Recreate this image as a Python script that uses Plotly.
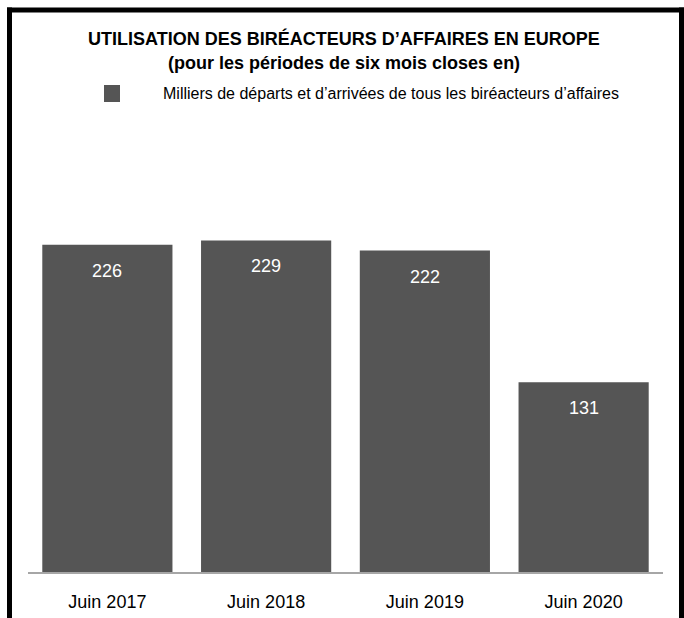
import plotly.graph_objects as go

# Données
categories = ["Juin 2017", "Juin 2018", "Juin 2019", "Juin 2020"]
departs_arrivees = [226, 229, 222, 131]
titre_ligne1 = "UTILISATION DES BIRÉACTEURS D’AFFAIRES EN EUROPE"
titre_ligne2 = "(pour les périodes de six mois closes en)"
legende = "Milliers de départs et d’arrivées de tous les biréacteurs d’affaires"

W, H = 684, 618
ML, MR, MT, MB = 28, 21, 210, 46
PW, PH = W - ML - MR, H - MT - MB

FONT = "Liberation Sans, Arial, sans-serif"
BAR = "#555555"


def px_x(px):
    return (px - ML) / PW


def px_y(py):
    return (H - MB - py) / PH


fig = go.Figure(
    go.Bar(
        x=categories,
        y=departs_arrivees,
        marker=dict(color=BAR, line=dict(width=0)),
        showlegend=False,
        hoverinfo="x+y",
    )
)

annotations = [
    dict(x=c, y=v, xref="x", yref="y", text=str(v), showarrow=False,
         yanchor="middle", yshift=-26, font=dict(family=FONT, size=18, color="white"))
    for c, v in zip(categories, departs_arrivees)
]
annotations += [
    dict(x=px_x(343.5), y=px_y(38.5), xref="paper", yref="paper", text="<b>" + titre_ligne1 + "</b>",
         showarrow=False, xanchor="center", yanchor="middle",
         font=dict(family=FONT, size=18, color="black")),
    dict(x=px_x(343.5), y=px_y(62.5), xref="paper", yref="paper", text="<b>" + titre_ligne2 + "</b>",
         showarrow=False, xanchor="center", yanchor="middle",
         font=dict(family=FONT, size=18, color="black")),
    dict(x=px_x(163), y=px_y(93.5), xref="paper", yref="paper", text=legende,
         showarrow=False, xanchor="left", yanchor="middle", xshift=-2,
         font=dict(family=FONT, size=16, color="black")),
]

shapes = [
    # symbole de légende
    dict(type="rect", xref="paper", yref="paper",
         x0=px_x(104), x1=px_x(120), y0=px_y(85), y1=px_y(102),
         fillcolor=BAR, line=dict(width=0)),
    # cadre
    dict(type="line", xref="paper", yref="paper",
         x0=px_x(9.5), x1=px_x(9.5), y0=px_y(7.5), y1=px_y(H + 5),
         line=dict(color="black", width=5)),
    dict(type="line", xref="paper", yref="paper",
         x0=px_x(7), x1=px_x(W + 5), y0=px_y(10), y1=px_y(10),
         line=dict(color="black", width=5)),
    dict(type="line", xref="paper", yref="paper",
         x0=px_x(681.5), x1=px_x(681.5), y0=px_y(7.5), y1=px_y(H + 5),
         line=dict(color="black", width=5)),
]

fig.update_layout(
    width=W, height=H,
    margin=dict(l=ML, r=MR, t=MT, b=MB, autoexpand=False),
    paper_bgcolor="white", plot_bgcolor="white",
    bargap=0.18,
    annotations=annotations,
    shapes=shapes,
    font=dict(family=FONT, color="black"),
)
fig.update_xaxes(
    range=[-0.5, 3.5], showline=True, linecolor="#a6a6a6", linewidth=2,
    ticks="", showgrid=False, tickfont=dict(family=FONT, size=18, color="black"),
    ticklabelstandoff=12, fixedrange=True,
)
fig.update_yaxes(range=[0, 250], visible=False, showgrid=False, zeroline=False, fixedrange=True)

fig.write_html("out.html", config={"displayModeBar": False})
